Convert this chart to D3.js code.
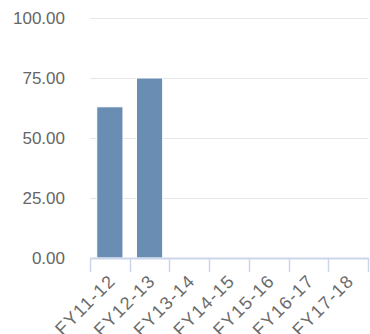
<!DOCTYPE html>
<html><head><meta charset="utf-8">
<script src="https://cdn.jsdelivr.net/npm/d3@7"></script>
<style>body{margin:0;background:#fff;}svg{display:block;font-family:"Liberation Sans",Arial,sans-serif;}</style>
</head><body>
<svg id="c" width="370" height="334"></svg>
<script>
const categories = ["FY11-12","FY12-13","FY13-14","FY14-15","FY15-16","FY16-17","FY17-18"];
const values = [63, 75, null, null, null, null, null];
const yTicks = [0, 25, 50, 75, 100];

(function(){
const svg = d3.select("#c");
const mLeft = 90, mRight = 368, mTop = 18, mBottom = 258;
const x = d3.scaleBand().domain(categories).range([mLeft, mRight]).paddingInner(0.34).paddingOuter(0.17);
const xb = d3.scaleBand().domain(categories).range([mLeft, mRight]);
const y = d3.scaleLinear().domain([0, 100]).range([mBottom, mTop]);

svg.append("g").selectAll("line").data(yTicks.filter(d=>d>0)).join("line")
  .attr("x1", mLeft).attr("x2", mRight).attr("y1", d=>y(d)+0.5).attr("y2", d=>y(d)+0.5)
  .attr("stroke", "#e6e6e6").attr("stroke-width", 1);

svg.append("g").selectAll("text").data(yTicks).join("text")
  .attr("x", 65).attr("y", d=>y(d)).attr("dy", "0.35em").attr("text-anchor", "end")
  .attr("font-size", 17).attr("fill", "#666666").text(d=>d.toFixed(2));

svg.append("g").selectAll("rect").data(categories.map((c,i)=>({c, v: values[i]})).filter(d=>d.v!=null)).join("rect")
  .attr("x", d=>x(d.c)).attr("width", x.bandwidth())
  .attr("y", d=>y(d.v)).attr("height", d=>y(0)-y(d.v))
  .attr("fill", "#6a8db3").attr("stroke", "#ffffff").attr("stroke-width", 1);

const ax = svg.append("g");
ax.append("line").attr("x1", mLeft).attr("x2", mRight+1).attr("y1", mBottom+0.5).attr("y2", mBottom+0.5)
  .attr("stroke", "#ccd6eb").attr("stroke-width", 2);
const tickX = categories.map(c=>xb(c)).concat([mRight]);
ax.selectAll("line.t").data(tickX).join("line").attr("class","t")
  .attr("x1", d=>Math.round(d)+0.5).attr("x2", d=>Math.round(d)+0.5).attr("y1", mBottom).attr("y2", mBottom+14)
  .attr("stroke", "#ccd6eb").attr("stroke-width", 1.5);

ax.selectAll("text").data(categories).join("text")
  .attr("transform", d=>`translate(${xb(d)+xb.bandwidth()/2-2},${mBottom+15}) rotate(-45)`)
  .attr("text-anchor", "end").attr("dy", "0.7em")
  .attr("font-size", 18).attr("letter-spacing", "1.3px").attr("fill", "#6b6b6b").text(d=>d);
})();
</script>
</body></html>
